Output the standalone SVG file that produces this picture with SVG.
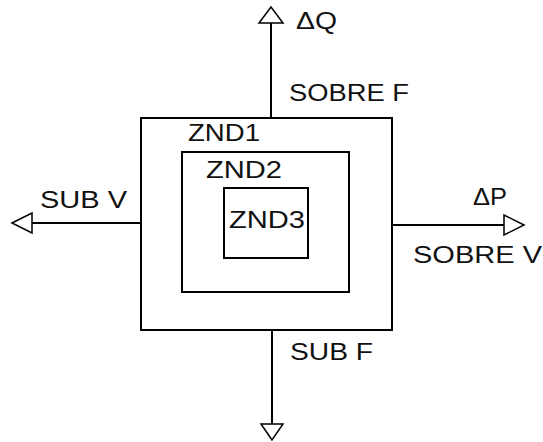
<svg xmlns="http://www.w3.org/2000/svg" width="543" height="442" viewBox="0 0 543 442">
<style>
.box{fill:none;stroke:#000;stroke-width:2}
.ln{fill:none;stroke:#000;stroke-width:2}
.ah{fill:#fff;stroke:#000;stroke-width:1.5;stroke-linejoin:miter}
text{font-family:"Liberation Sans",Arial,sans-serif;font-size:24px;fill:#111}
</style>
<rect width="543" height="442" fill="#fff"/>
<g id="connectors">
<line class="ln" x1="271" y1="118" x2="271" y2="22"/>
<polygon class="ah" points="271,7 259,23 283,23"/>
<line class="ln" x1="140" y1="223" x2="32" y2="223"/>
<polygon class="ah" points="12,223 32,213 32,233"/>
<line class="ln" x1="392" y1="225" x2="504" y2="225"/>
<polygon class="ah" points="524,225 504,215 504,235"/>
<line class="ln" x1="272" y1="330" x2="272" y2="424"/>
<polygon class="ah" points="272,440 261,424 283,424"/>
</g>
<g id="znd1">
<rect class="box" x="141" y="118" width="251" height="212"/>
<text x="188" y="141" textLength="72" lengthAdjust="spacingAndGlyphs">ZND1</text>
</g>
<g id="znd2">
<rect class="box" x="182" y="152" width="167" height="140"/>
<text x="206" y="178" textLength="76" lengthAdjust="spacingAndGlyphs">ZND2</text>
</g>
<g id="znd3">
<rect class="box" x="224" y="188" width="84" height="70"/>
<text x="229" y="228" textLength="76" lengthAdjust="spacingAndGlyphs">ZND3</text>
</g>
<g id="labels">
<text x="296" y="29" textLength="41" lengthAdjust="spacingAndGlyphs">ΔQ</text>
<text x="289" y="101" textLength="120" lengthAdjust="spacingAndGlyphs">SOBRE F</text>
<text x="40" y="208" textLength="87" lengthAdjust="spacingAndGlyphs">SUB V</text>
<text x="473" y="205" textLength="34" lengthAdjust="spacingAndGlyphs">ΔP</text>
<text x="413" y="263" textLength="129" lengthAdjust="spacingAndGlyphs">SOBRE V</text>
<text x="290" y="360" textLength="83" lengthAdjust="spacingAndGlyphs">SUB F</text>
</g>
</svg>
